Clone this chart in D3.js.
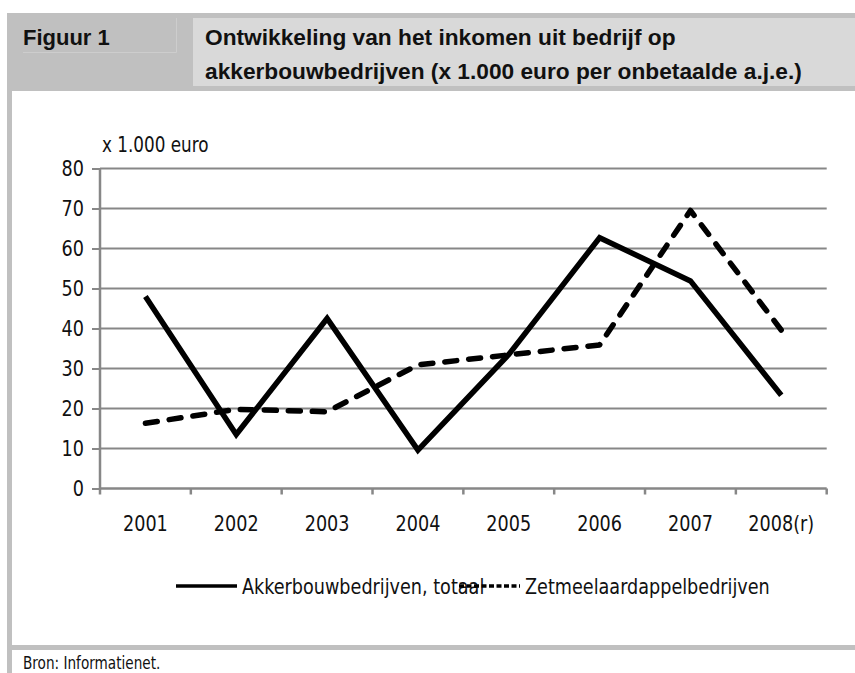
<!DOCTYPE html>
<html>
<head>
<meta charset="utf-8">
<script src="https://d3js.org/d3.v7.min.js"></script>
<style>
  body { margin: 0; background: #fff; }
  svg { display: block; }
  .chart text, .foot { font-family: "Liberation Sans Narrow", "DejaVu Sans Condensed", "Arial Narrow", sans-serif; fill: #111; }
  .head text { font-family: "Liberation Sans", Arial, sans-serif; font-weight: bold; fill: #111; }
</style>
</head>
<body>
<svg id="fig" width="855" height="673"></svg>
<script>
// values (x 1.000 euro per onbetaalde a.j.e.)
var years = ["2001", "2002", "2003", "2004", "2005", "2006", "2007", "2008(r)"];
var akkerbouw = [48, 13.5, 42.5, 9.6, 33.5, 62.7, 51.9, 23.3];
var zetmeel = [16.3, 19.8, 19.2, 30.9, 33.4, 35.9, 69.5, 39.6];
var yTicks = [0, 10, 20, 30, 40, 50, 60, 70, 80];
var seriesNames = ["Akkerbouwbedrijven, totaal", "Zetmeelaardappelbedrijven"];

draw();

function draw(){
    var svg = d3.select("#fig");
    var grey = "#c0c0c0";

    // frame around the figure
    var head = svg.append("g").attr("class", "head");
    head.append("rect").attr("x", 7).attr("y", 13).attr("width", 848).attr("height", 78).attr("fill", grey);
    head.append("rect").attr("x", 193).attr("y", 18).attr("width", 662).attr("height", 68).attr("fill", "#d9d9d9");
    head.append("path").attr("d", "M23,52.5H176.5V18").attr("fill", "none").attr("stroke", "#cdcdcd").attr("stroke-width", 1);
    svg.append("rect").attr("x", 7).attr("y", 91).attr("width", 5).attr("height", 582).attr("fill", grey);
    svg.append("rect").attr("x", 7).attr("y", 645).attr("width", 848).attr("height", 5).attr("fill", grey);

    head.append("text").attr("x", 23).attr("y", 45).style("font-size", "22px").text("Figuur 1");
    var t1 = head.append("text").attr("x", 205).attr("y", 45).text("Ontwikkeling van het inkomen uit bedrijf op");
    var t2 = head.append("text").attr("x", 205).attr("y", 79).text("akkerbouwbedrijven (x 1.000 euro per onbetaalde a.j.e.)");
    t2.style("font-size", "20px");
    var fs = 20 * 597 / t2.node().getComputedTextLength();
    t1.style("font-size", fs + "px");
    t2.style("font-size", fs + "px");

    svg.append("text").attr("class", "foot").attr("x", 23).attr("y", 669)
        .style("font-size", "17px").text("Bron: Informatienet.");

    // chart area
    var pLeft = 100, pRight = 826.7, pTop = 168.5, pBottom = 488.5;
    var chart = svg.append("g").attr("class", "chart");

    var x = d3.scaleBand().domain(years).range([pLeft, pRight]);
    var y = d3.scaleLinear().domain([0, 80]).range([pBottom, pTop]);
    var axisColor = "#878787";

    // gridlines
    chart.selectAll("line.grid")
        .data(yTicks.slice(1))
        .enter()
        .append("line")
            .attr("class", "grid")
            .attr("x1", pLeft).attr("x2", pRight)
            .attr("y1", d => y(d)).attr("y2", d => y(d))
            .attr("stroke", axisColor).attr("stroke-width", 2);

    // y axis
    var yAxis = chart.append("g")
        .attr("transform", `translate(${pLeft},0)`)
        .call(d3.axisLeft(y).tickValues(yTicks).tickSize(8).tickPadding(8));
    yAxis.select(".domain").attr("stroke", axisColor).attr("stroke-width", 2.5).attr("d", `M0,${pBottom}V${pTop}`);
    yAxis.selectAll(".tick line").attr("stroke", axisColor).attr("stroke-width", 2);
    yAxis.selectAll(".tick text").style("font-size", "22px").attr("fill", "#111");
    yAxis.attr("font-family", null);

    // x axis, ticks on category boundaries
    var xAxis = chart.append("g").attr("transform", `translate(0,${pBottom})`);
    xAxis.append("line").attr("x1", pLeft).attr("x2", pRight).attr("stroke", axisColor).attr("stroke-width", 2.5);
    xAxis.selectAll("line.tick")
        .data(d3.range(years.length + 1))
        .enter()
        .append("line")
            .attr("x1", i => pLeft + i * x.step()).attr("x2", i => pLeft + i * x.step())
            .attr("y1", 0).attr("y2", 6)
            .attr("stroke", axisColor).attr("stroke-width", 2.5);
    xAxis.selectAll("text")
        .data(years)
        .enter()
        .append("text")
            .attr("x", d => x(d) + x.bandwidth() / 2)
            .attr("y", 42)
            .style("text-anchor", "middle")
            .style("font-size", "22px")
            .text(d => d);

    chart.append("text").attr("x", 102).attr("y", 152).style("font-size", "21px").text("x 1.000 euro");

    // lines
    var line = d3.line()
        .x((d, i) => x(years[i]) + x.bandwidth() / 2)
        .y(d => y(d));

    chart.append("path")
        .attr("d", line(zetmeel))
        .attr("fill", "none").attr("stroke", "#000").attr("stroke-width", 5.5)
        .attr("stroke-dasharray", "12,12").attr("stroke-linecap", "round").attr("stroke-linejoin", "round");

    chart.append("path")
        .attr("d", line(akkerbouw))
        .attr("fill", "none").attr("stroke", "#000").attr("stroke-width", 5.5)
        .attr("stroke-linejoin", "miter");

    // legend
    var legendY = 586;
    var leg = chart.append("g");
    leg.append("line").attr("x1", 176).attr("x2", 237).attr("y1", legendY).attr("y2", legendY)
        .attr("stroke", "#000").attr("stroke-width", 3.5);
    leg.append("text").attr("x", 242).attr("y", legendY + 8).style("font-size", "22px").text(seriesNames[0]);
    leg.append("line").attr("x1", 459).attr("x2", 520).attr("y1", legendY).attr("y2", legendY)
        .attr("stroke", "#000").attr("stroke-width", 3.5).attr("stroke-dasharray", "5,2.5");
    leg.append("text").attr("x", 525).attr("y", legendY + 8).style("font-size", "22px").text(seriesNames[1]);

    // narrow the glyphs when no condensed font is installed
    svg.selectAll(".chart text, .foot").each(function(){
        var w = this.getComputedTextLength();
        d3.select(this).attr("textLength", w * 0.89).attr("lengthAdjust", "spacingAndGlyphs");
    });
}
</script>
</body>
</html>
